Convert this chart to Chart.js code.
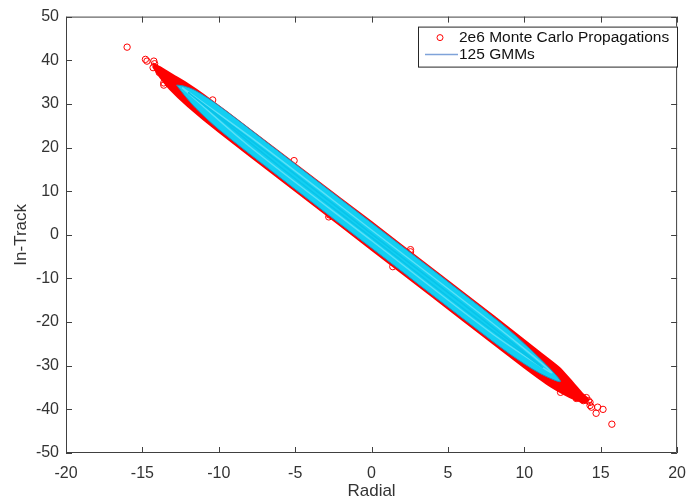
<!DOCTYPE html>
<html>
<head>
<meta charset="utf-8">
<script src="https://cdn.jsdelivr.net/npm/chart.js@4.4.1/dist/chart.umd.min.js"></script>
<style>
  html, body { margin: 0; padding: 0; background: #fff; }
  #wrap { width: 697px; height: 504px; position: relative; }
</style>
</head>
<body>
<div id="wrap"><canvas id="grafico"></canvas></div>
<script>
// valores
const xTicks = [-20, -15, -10, -5, 0, 5, 10, 15, 20];
const yTicks = [-50, -40, -30, -20, -10, 0, 10, 20, 30, 40, 50];

// circulos soltos (pontas e bordas da nuvem)
const mcPontos = [
  [-16.0, 43.0], [-14.8, 40.2], [-14.7, 39.8], [-14.25, 39.8], [-14.2, 39.2],
  [-14.3, 38.3], [-13.9, 37.2], [-13.6, 34.8], [-13.6, 34.3], [-12.1, 30.7],
  [-10.4, 30.9], [-5.07, 17.0], [-2.75, 4.55], [-2.8, 4.1], [1.39, -7.3],
  [2.55, -3.9], [2.55, -3.4], [12.37, -35.2], [12.37, -36.1], [13.4, -37.3],
  [13.4, -37.5], [13.7, -37.3], [13.86, -38.0], [14.06, -37.3], [14.2, -38.0],
  [14.3, -38.4], [14.3, -39.1], [14.4, -39.5], [14.8, -39.5], [14.7, -40.9],
  [15.15, -40.0], [15.73, -43.4]
];

// contorno da faixa vermelha densa
const faixaSup = [
  [-14.3, 39.3], [-13.8, 38.3], [-13.0, 36.6], [-12.0, 34.5], [-11.0, 32.1],
  [-8.0, 24.2], [-4.0, 13.5], [0.0, 2.9], [4.0, -7.9], [8.0, -18.7],
  [11.0, -26.9], [12.3, -30.5], [13.2, -34.0], [13.8, -36.4], [14.2, -37.8]
];
const faixaInf = [
  [14.0, -38.5], [13.3, -37.7], [12.6, -36.5], [11.5, -34.2], [10.0, -30.4],
  [6.0, -19.6], [2.0, -8.8], [-2.0, 2.0], [-6.0, 12.8], [-10.0, 23.6],
  [-12.0, 29.4], [-13.2, 33.4], [-13.9, 36.4], [-14.3, 38.5]
];

// contorno das GMMs (ciano)
const gmmSup = [
  [-12.76, 34.3], [-12.3, 34.1], [-11.5, 33.0], [-10.0, 29.6], [-6.0, 18.9],
  [0.0, 2.75], [6.0, -13.45], [9.0, -21.8], [11.0, -28.3], [12.37, -33.6]
];
const gmmInf = [
  [11.0, -31.7], [9.0, -27.2], [6.0, -19.25], [0.0, -3.05], [-6.0, 13.15],
  [-10.0, 24.15], [-11.5, 29.0], [-12.3, 32.2], [-12.76, 34.3]
];
// faixas internas mais claras
const gmmMeio1 = [
  [-12.4, 33.7], [-8.0, 22.6], [0.0, 1.1], [8.0, -20.5], [11.8, -31.6],
  [8.0, -22.9], [0.0, -1.3], [-8.0, 20.3], [-12.4, 33.7]
];
const gmmMeio2 = [
  [-12.0, 32.6], [-6.0, 16.6], [0.0, 0.2], [6.0, -15.9], [11.2, -30.4],
  [6.0, -16.9], [0.0, -0.6], [-6.0, 15.6], [-12.0, 32.6]
];

const toXY = arr => arr.map(p => ({ x: p[0], y: p[1] }));
const corTexto = "#333333";
const corEixo = "#404040";
const fonte = "'Liberation Sans', Arial, sans-serif";

const eixosPlugin = {
  id: "eixos",
  afterDatasetsDraw(chart) {
    const { ctx, chartArea: a, scales } = chart;
    ctx.save();
    ctx.strokeStyle = corEixo;
    ctx.lineWidth = 1;
    ctx.beginPath();
    ctx.rect(a.left + 0.5, a.top + 0.5, a.right - a.left - 1, a.bottom - a.top - 1);
    const t = 6;
    xTicks.forEach(v => {
      const px = Math.round(scales.x.getPixelForValue(v)) + 0.5;
      ctx.moveTo(px, a.bottom); ctx.lineTo(px, a.bottom - t);
      ctx.moveTo(px, a.top); ctx.lineTo(px, a.top + t);
    });
    yTicks.forEach(v => {
      const py = Math.round(scales.y.getPixelForValue(v)) + 0.5;
      ctx.moveTo(a.left, py); ctx.lineTo(a.left + t, py);
      ctx.moveTo(a.right, py); ctx.lineTo(a.right - t, py);
    });
    ctx.stroke();

    // legenda
    const lx = a.left + 352, ly = a.top + 10, lw = 259, lh = 40;
    ctx.fillStyle = "#fff";
    ctx.fillRect(lx, ly, lw, lh);
    ctx.strokeStyle = "#262626";
    ctx.strokeRect(lx + 0.5, ly + 0.5, lw, lh);
    ctx.font = "15.5px " + fonte;
    ctx.fillStyle = "#111";
    ctx.textBaseline = "middle";
    const ds = chart.data.datasets;
    ctx.beginPath();
    ctx.strokeStyle = "#ff0000";
    ctx.arc(lx + 22, ly + 11, 3, 0, Math.PI * 2);
    ctx.stroke();
    ctx.fillText(ds[0].label, lx + 41, ly + 11);
    ctx.beginPath();
    ctx.strokeStyle = "#7fa3d9";
    ctx.lineWidth = 1.5;
    ctx.moveTo(lx + 7, ly + 28); ctx.lineTo(lx + 40, ly + 28);
    ctx.stroke();
    ctx.fillText(ds[1].label, lx + 41, ly + 28);
    ctx.restore();
  }
};

new Chart(document.getElementById("grafico"), {
  type: "scatter",
  data: {
    datasets: [
      {
        label: "2e6 Monte Carlo Propagations",
        data: toXY(mcPontos),
        pointStyle: "circle",
        pointRadius: 3.2,
        pointBorderWidth: 1,
        borderColor: "#ff0000",
        backgroundColor: "rgba(0,0,0,0)",
        order: 3
      },
      {
        label: "125 GMMs",
        data: toXY(gmmSup.concat(gmmInf)),
        showLine: true,
        fill: "shape",
        borderColor: "#2a8cb8",
        backgroundColor: "#12cff2",
        borderWidth: 1,
        pointRadius: 0,
        tension: 0.3,
        order: 2
      },
      {
        label: "gmm meio 1",
        data: toXY(gmmMeio1),
        showLine: true,
        borderColor: "#5ae0f7",
        borderWidth: 1.5,
        pointRadius: 0,
        tension: 0.3,
        order: 1
      },
      {
        label: "gmm meio 2",
        data: toXY(gmmMeio2),
        showLine: true,
        borderColor: "#08c4ea",
        borderWidth: 1.5,
        pointRadius: 0,
        tension: 0.3,
        order: 0
      },
      {
        label: "faixa",
        data: toXY(faixaSup.concat(faixaInf)),
        showLine: true,
        fill: "shape",
        borderColor: "#ff0000",
        backgroundColor: "#ff0000",
        borderWidth: 2,
        pointRadius: 0,
        tension: 0.2,
        order: 4
      }
    ]
  },
  options: {
    responsive: true,
    maintainAspectRatio: false,
    animation: false,
    layout: { padding: { top: 13, right: 12, left: 0, bottom: 0 } },
    plugins: { legend: { display: false }, tooltip: { enabled: false } },
    scales: {
      x: {
        min: -20, max: 20,
        afterFit: s => { s.height = 51; },
        afterBuildTicks: s => { s.ticks = xTicks.map(v => ({ value: v })); },
        ticks: { color: corTexto, font: { size: 16, family: fonte }, padding: 11, maxRotation: 0 },
        grid: { display: false, drawTicks: false },
        border: { display: false },
        title: { display: true, text: "Radial", color: corTexto, font: { size: 17, family: fonte }, padding: { top: 0, bottom: 2 } }
      },
      y: {
        min: -50, max: 50,
        afterFit: s => { s.width = 66; },
        afterBuildTicks: s => { s.ticks = yTicks.map(v => ({ value: v })); },
        ticks: { color: corTexto, font: { size: 16, family: fonte }, padding: 7 },
        grid: { display: false, drawTicks: false },
        border: { display: false },
        title: { display: true, text: "In-Track", color: corTexto, font: { size: 17, family: fonte }, padding: { top: 11, bottom: 0 } }
      }
    }
  },
  plugins: [eixosPlugin]
});
</script>
</body>
</html>
